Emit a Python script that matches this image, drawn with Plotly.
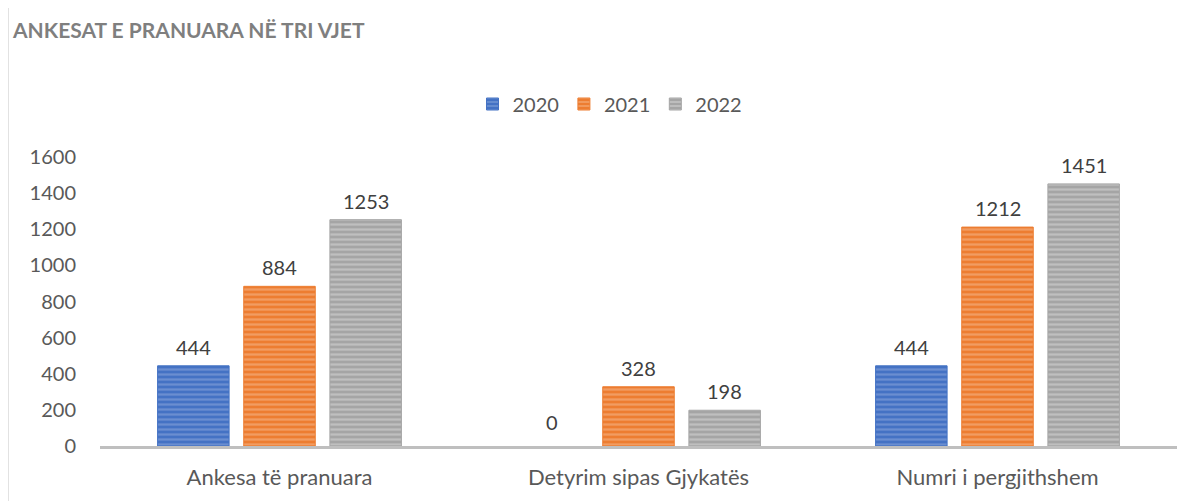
import plotly.graph_objects as go

categories = ["Ankesa të pranuara", "Detyrim sipas Gjykatës", "Numri i pergjithshem"]
years = ["2020", "2021", "2022"]
values_2020 = [444, 0, 444]
values_2021 = [884, 328, 1212]
values_2022 = [1253, 198, 1451]
series = [values_2020, values_2021, values_2022]
base_colors = ["#4472C4", "#ED7D31", "#A5A5A5"]
stripe_colors = ["#8FAADC", "#F6BC93", "#D9D9D9"]
y_ticks = [0, 200, 400, 600, 800, 1000, 1200, 1400, 1600]
title_text = "ANKESAT E PRANUARA NË TRI VJET"

FONT = "Lato, Carlito, Calibri, sans-serif"

# page offset of the figure (default body margin)
OFF = 8
W, H = 1201, 501
# plot area in page pixels: x 100..1177, y 157..446
L = 100 - OFF
T = 157 - OFF
R = W - (1177 - OFF)
B = H - (446 - OFF)
pw = W - L - R
ph = H - T - B
BARGAP, GROUPGAP = 0.28, 0.17

def px_x(x):
    return (x - OFF - L) / pw

def px_y(y):
    return (H - B - (y - OFF)) / ph

fig = go.Figure()
n = len(series)
slot_px = pw / len(categories) * (1 - BARGAP) / n
annotations = []
for i, (yr, vals, bc, sc) in enumerate(zip(years, series, base_colors, stripe_colors)):
    fig.add_trace(go.Bar(
        name=yr, x=categories, y=vals,
        marker=dict(color=bc,
                    line=dict(color=bc, width=[1 if v > 0 else 0 for v in vals]),
                    pattern=dict(shape="-", bgcolor=bc, fgcolor=sc,
                                 size=5, solidity=0.45, fillmode="overlay")),
        hoverinfo="x+y",
    ))
    for c, v in zip(categories, vals):
        annotations.append(dict(
            x=c, y=v, xref="x", yref="y", text=str(v), showarrow=False,
            xanchor="center", yanchor="bottom",
            xshift=(i - (n - 1) / 2) * slot_px, yshift=5 if v > 0 else 10,
            font=dict(family=FONT, size=20, color="#404040")))

annotations.append(dict(text=f"<b>{title_text}</b>", xref="paper", yref="paper",
                        x=px_x(10), y=px_y(30), xanchor="left", yanchor="middle",
                        showarrow=False,
                        font=dict(family=FONT, size=21, color="#7F7F7F")))

fig.update_layout(
    width=W, height=H,
    margin=dict(l=L, r=R, t=T, b=B, autoexpand=False),
    paper_bgcolor="white", plot_bgcolor="white",
    barmode="group", bargap=BARGAP, bargroupgap=GROUPGAP,
    font=dict(family=FONT, color="#595959"),
    showlegend=True,
    legend=dict(orientation="h", x=px_x(610), xanchor="center",
                y=px_y(104), yanchor="middle",
                font=dict(family=FONT, size=20, color="#595959"),
                itemwidth=30, tracegroupgap=0),
    xaxis=dict(showline=True, linecolor="#BFBFBF", linewidth=2.5,
               showgrid=False, ticks="", ticklabelstandoff=10, automargin=False,
               tickfont=dict(family=FONT, size=22, color="#595959")),
    yaxis=dict(range=[0, 1600], tickvals=y_ticks, showgrid=False,
               zeroline=False, showline=False, ticks="", automargin=False,
               ticklabelstandoff=23,
               tickfont=dict(family=FONT, size=20, color="#595959")),
    annotations=annotations,
    shapes=[dict(type="rect", xref="paper", yref="paper",
                 x0=px_x(8), x1=px_x(1230), y0=px_y(530), y1=px_y(5),
                 line=dict(color="#D9D9D9", width=1.5), layer="below")],
)

fig.write_html("out.html")
